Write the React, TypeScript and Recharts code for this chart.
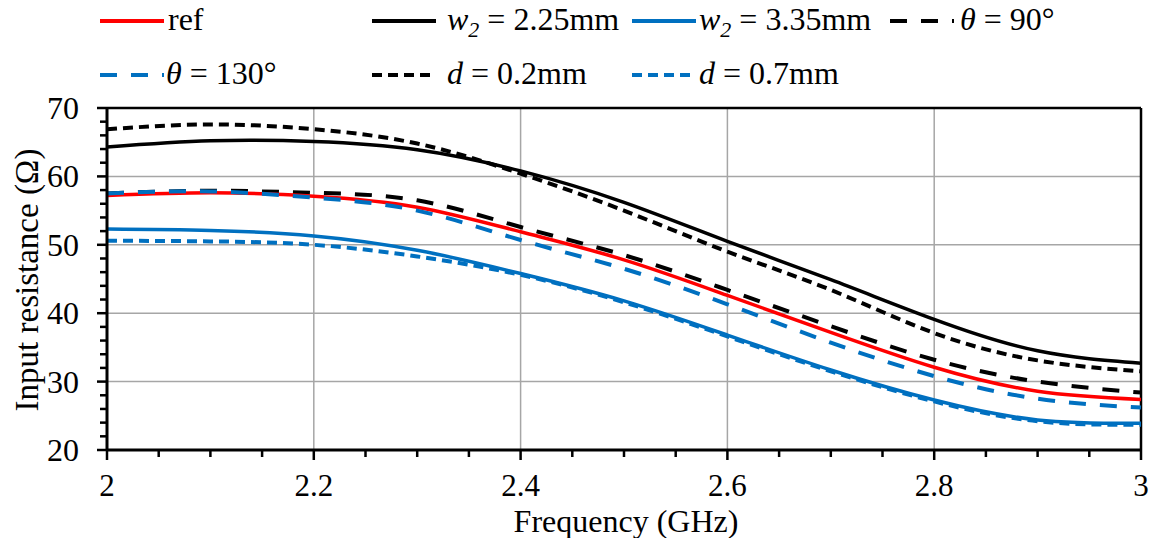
import React from 'react';
import { LineChart, Line, XAxis, YAxis, ReferenceLine, Label } from 'recharts';

// frequency (GHz)
const freq = [2.0, 2.1, 2.2, 2.3, 2.4, 2.5, 2.6, 2.7, 2.8, 2.9, 3.0];

// input resistance (ohm) per design variant
const refR = [57.2, 57.6, 57.1, 55.5, 51.9, 47.8, 42.6, 37.2, 32.1, 28.6, 27.4];
const w2Small = [64.3, 65.2, 65.1, 63.9, 60.8, 56.2, 50.5, 44.9, 39.1, 34.5, 32.7];
const w2Large = [52.3, 52.1, 51.3, 49.2, 45.8, 41.8, 36.8, 31.7, 27.3, 24.4, 23.9];
const theta90 = [57.5, 57.9, 57.6, 56.5, 52.6, 48.5, 43.4, 38.1, 33.2, 30.0, 28.4];
const theta130 = [57.5, 57.8, 56.9, 55.0, 50.7, 46.5, 41.3, 35.7, 30.8, 27.5, 26.2];
const d02 = [66.9, 67.6, 66.9, 64.8, 60.4, 55.0, 49.0, 43.4, 37.1, 33.1, 31.5];
const d07 = [50.6, 50.5, 50.0, 48.3, 45.6, 41.6, 36.6, 31.5, 27.1, 24.2, 23.7];

const xTicks = [2, 2.05, 2.1, 2.15, 2.2, 2.25, 2.3, 2.35, 2.4, 2.45, 2.5, 2.55, 2.6, 2.65, 2.7, 2.75, 2.8, 2.85, 2.9, 2.95, 3];
const xMajor = [2, 2.2, 2.4, 2.6, 2.8, 3];
const yTicks = [20, 22, 24, 26, 28, 30, 32, 34, 36, 38, 40, 42, 44, 46, 48, 50, 52, 54, 56, 58, 60, 62, 64, 66, 68, 70];
const yMajor = [20, 30, 40, 50, 60, 70];

const data = freq.map((f, i) => ({
  f,
  ref: refR[i],
  w2a: w2Small[i],
  w2b: w2Large[i],
  t90: theta90[i],
  t130: theta130[i],
  d02: d02[i],
  d07: d07[i],
}));

const FONT = 'Liberation Serif';
const RED = '#ff0000';
const BLUE = '#0070c0';
const DASH = '17 14';
const SHORT = '10 6';

const isMajor = (list: number[], v: number) => list.some((m) => Math.abs(m - v) < 1e-6);

const XTick = ({ x, y, payload }: any) => {
  const major = isMajor(xMajor, payload.value);
  return (
    <g>
      <line x1={x} y1={y} x2={x} y2={y + (major ? 10 : 7)} stroke="#000" strokeWidth={2.5} />
      {major && (
        <text x={x} y={y + 46} textAnchor="middle" fill="#000" fontFamily={FONT} fontSize={31}>
          {payload.value}
        </text>
      )}
    </g>
  );
};

const YTick = ({ x, y, payload }: any) => {
  const major = isMajor(yMajor, payload.value);
  return (
    <g>
      <line x1={x} y1={y} x2={x - (major ? 10 : 7)} y2={y} stroke="#000" strokeWidth={2.5} />
      {major && (
        <text x={x - 28} y={y + 11} textAnchor="end" fill="#000" fontFamily={FONT} fontSize={32}>
          {payload.value}
        </text>
      )}
    </g>
  );
};

const Sample = ({ color, dash }: { color: string; dash?: string }) => (
  <svg width={64} height={8} style={{ display: 'block' }}>
    <line x1={0} y1={4} x2={64} y2={4} stroke={color} strokeWidth={4} strokeDasharray={dash} />
  </svg>
);

const sub = { fontSize: 22, verticalAlign: '-0.3em', lineHeight: 0 } as const;

const legendRow1 = [
  { lx: 100, tx: 168, color: RED, dash: undefined, text: <>ref</> },
  { lx: 372, tx: 447, color: '#000', dash: undefined, text: <><i>w</i><i style={sub}>2</i> = 2.25mm</> },
  { lx: 632, tx: 699, color: BLUE, dash: undefined, text: <><i>w</i><i style={sub}>2</i> = 3.35mm</> },
  { lx: 890, tx: 960, color: '#000', dash: DASH, text: <><i>θ</i> = 90°</> },
];
const legendRow2 = [
  { lx: 100, tx: 166, color: BLUE, dash: DASH, text: <><i>θ</i> = 130°</> },
  { lx: 372, tx: 447, color: '#000', dash: SHORT, text: <><i>d</i> = 0.2mm</> },
  { lx: 632, tx: 699, color: BLUE, dash: SHORT, text: <><i>d</i> = 0.7mm</> },
];

const LegendRow = ({ items, lineY, textTop }: { items: typeof legendRow1; lineY: number; textTop: number }) => (
  <>
    {items.map((it, i) => (
      <React.Fragment key={i}>
        <div style={{ position: 'absolute', left: it.lx, top: lineY - 4 }}>
          <Sample color={it.color} dash={it.dash} />
        </div>
        <div style={{ position: 'absolute', left: it.tx, top: textTop, fontSize: 32, lineHeight: '36px', whiteSpace: 'nowrap' }}>
          {it.text}
        </div>
      </React.Fragment>
    ))}
  </>
);

export default function App() {
  return (
    <div style={{ position: 'absolute', left: 0, top: 0, width: 1153, height: 538, background: '#fff', fontFamily: FONT }}>
      <LegendRow items={legendRow1} lineY={21} textTop={1} />
      <LegendRow items={legendRow2} lineY={75} textTop={55} />
      <LineChart width={1153} height={538} data={data} margin={{ top: 108, right: 12, left: 0, bottom: 0 }} style={{ fontFamily: FONT }}>
        {[2.2, 2.4, 2.6, 2.8].map((v) => (
          <ReferenceLine key={`gx${v}`} x={v} stroke="#a6a6a6" strokeWidth={1.5} />
        ))}
        {[30, 40, 50, 60].map((v) => (
          <ReferenceLine key={`gy${v}`} y={v} stroke="#a6a6a6" strokeWidth={1.5} />
        ))}
        <ReferenceLine y={70} stroke="#000" strokeWidth={2.5} />
        <ReferenceLine x={3} stroke="#000" strokeWidth={2.5} />
        <XAxis
          dataKey="f"
          type="number"
          domain={[2, 3]}
          ticks={xTicks}
          interval={0}
          height={88}
          tickSize={0}
          tickMargin={0}
          tickLine={false}
          tick={<XTick />}
          axisLine={{ stroke: '#000', strokeWidth: 3 }}
        >
          <Label
            content={() => (
              <text x={626} y={532} textAnchor="middle" fill="#000" fontFamily={FONT} fontSize={32}>
                Frequency (GHz)
              </text>
            )}
          />
        </XAxis>
        <YAxis
          type="number"
          domain={[20, 70]}
          ticks={yTicks}
          interval={0}
          width={107}
          tickSize={0}
          tickMargin={0}
          tickLine={false}
          tick={<YTick />}
          axisLine={{ stroke: '#000', strokeWidth: 3 }}
        >
          <Label
            content={() => (
              <text x={27} y={280} transform="rotate(-90 27 280)" textAnchor="middle" dominantBaseline="central" fill="#000" fontFamily={FONT} fontSize={33}>
                Input resistance (Ω)
              </text>
            )}
          />
        </YAxis>
        <Line type="natural" dataKey="w2a" stroke="#000" strokeWidth={3.5} dot={false} isAnimationActive={false} />
        <Line type="natural" dataKey="d02" stroke="#000" strokeWidth={4} strokeDasharray={SHORT} dot={false} isAnimationActive={false} />
        <Line type="natural" dataKey="t90" stroke="#000" strokeWidth={4} strokeDasharray={DASH} dot={false} isAnimationActive={false} />
        <Line type="natural" dataKey="ref" stroke={RED} strokeWidth={3.5} dot={false} isAnimationActive={false} />
        <Line type="natural" dataKey="t130" stroke={BLUE} strokeWidth={4} strokeDasharray={DASH} dot={false} isAnimationActive={false} />
        <Line type="natural" dataKey="w2b" stroke={BLUE} strokeWidth={3.5} dot={false} isAnimationActive={false} />
        <Line type="natural" dataKey="d07" stroke={BLUE} strokeWidth={4} strokeDasharray={SHORT} dot={false} isAnimationActive={false} />
      </LineChart>
    </div>
  );
}
